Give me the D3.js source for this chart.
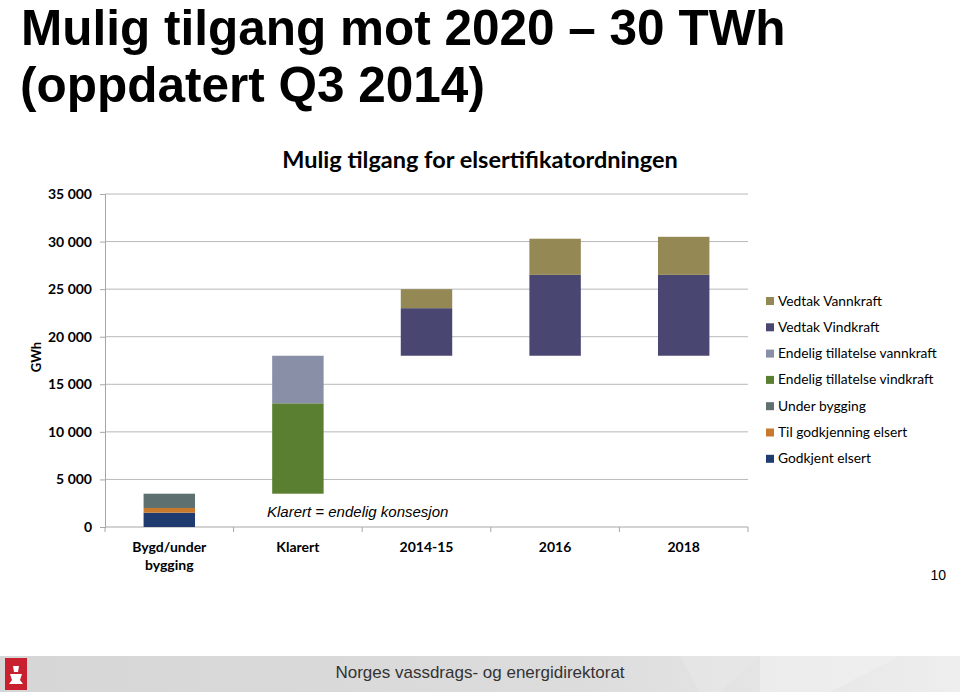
<!DOCTYPE html>
<html>
<head>
<meta charset="utf-8">
<script src="https://cdn.jsdelivr.net/npm/d3@7"></script>
<style>
  body { margin:0; background:#fff; }
  svg { display:block; }
</style>
</head>
<body>
<svg id="chart" width="960" height="698"></svg>
<script>
// Data
var categories = ["Bygd/under bygging", "Klarert", "2014-15", "2016", "2018"];
var base        = [0, 3500, 18000, 18000, 18000]; // invisible offset
var godkjent    = [1500, 0, 0, 0, 0];
var tilGodkj    = [500, 0, 0, 0, 0];
var underBygg   = [1500, 0, 0, 0, 0];
var endVind     = [0, 9500, 0, 0, 0];
var endVann     = [0, 5000, 0, 0, 0];
var vedtakVind  = [0, 0, 5000, 8500, 8500];
var vedtakVann  = [0, 0, 2000, 3800, 4000];
var yTicks = [0, 5000, 10000, 15000, 20000, 25000, 30000, 35000];

var seriesKeys = ["base", "Godkjent elsert", "Til godkjenning elsert", "Under bygging",
                  "Endelig tillatelse vindkraft", "Endelig tillatelse vannkraft",
                  "Vedtak Vindkraft", "Vedtak Vannkraft"];
var seriesVals = [base, godkjent, tilGodkj, underBygg, endVind, endVann, vedtakVind, vedtakVann];
var colors = {
  "Godkjent elsert": "#1f3b70",
  "Til godkjenning elsert": "#c8792c",
  "Under bygging": "#5f7070",
  "Endelig tillatelse vindkraft": "#5a7f31",
  "Endelig tillatelse vannkraft": "#8a8fa8",
  "Vedtak Vindkraft": "#4a4672",
  "Vedtak Vannkraft": "#948955"
};
var legendOrder = ["Vedtak Vannkraft", "Vedtak Vindkraft", "Endelig tillatelse vannkraft",
                   "Endelig tillatelse vindkraft", "Under bygging", "Til godkjenning elsert",
                   "Godkjent elsert"];

var svg = d3.select("#chart");
var dim = { left:105, right:748, top:194, bottom:527 };
var calibri = "Lato, 'Open Sans', sans-serif";
var arial = "'Liberation Sans', Arial, sans-serif";

// Table for d3.stack
var table = categories.map(function(c, i) {
  var row = { cat: c };
  seriesKeys.forEach(function(k, j) { row[k] = seriesVals[j][i]; });
  return row;
});
var stacked = d3.stack().keys(seriesKeys)(table);

var xScale = d3.scaleBand().domain(categories).range([dim.left, dim.right]);
var yScale = d3.scaleLinear().domain([0, 35000]).range([dim.bottom, dim.top]);
var barW = xScale.bandwidth() * 0.4;

// Big slide title
svg.append("text").attr("x", 21).attr("y", 45)
   .style("font-family", arial).style("font-weight", "bold")
   .style("font-size", "49.5px").text("Mulig tilgang mot 2020 \u2013 30 TWh");
svg.append("text").attr("x", 20).attr("y", 102)
   .style("font-family", arial).style("font-weight", "bold")
   .style("font-size", "49.5px").text("(oppdatert Q3 2014)");

// Chart title
svg.append("text").attr("x", 480).attr("y", 168).attr("text-anchor", "middle")
   .style("font-family", calibri).style("font-weight", "bold").style("font-size", "23.5px")
   .text("Mulig tilgang for elsertifikatordningen");

// Gridlines
svg.append("g").selectAll("line").data(yTicks.slice(1)).enter().append("line")
   .attr("x1", dim.left).attr("x2", dim.right)
   .attr("y1", function(d) { return yScale(d); }).attr("y2", function(d) { return yScale(d); })
   .attr("stroke", "#b8b8b8").attr("stroke-width", 1);

// Y axis
var yAxis = d3.axisLeft(yScale).tickValues(yTicks).tickSize(5).tickPadding(8);
var gy = svg.append("g").attr("transform", "translate(" + dim.left + ",0)").call(yAxis);
gy.select(".domain").attr("stroke", "#a6a6a6");
gy.selectAll(".tick line").attr("stroke", "#a6a6a6");
gy.selectAll(".tick text").style("font-family", calibri).style("font-weight", "bold")
   .style("font-size", "14px").attr("fill", "#000")
   .text(function(d) { return d3.format(",")(d).replace(/,/g, " "); });

svg.append("text").attr("transform", "translate(41,357) rotate(-90)").attr("text-anchor", "middle")
   .style("font-family", calibri).style("font-weight", "bold").style("font-size", "13px").text("GWh");

// X axis (ticks at category boundaries)
svg.append("line").attr("x1", dim.left).attr("x2", dim.right)
   .attr("y1", dim.bottom).attr("y2", dim.bottom).attr("stroke", "#a6a6a6");
var bounds = categories.map(function(c) { return xScale(c); }).concat([dim.right]);
svg.append("g").selectAll("line").data(bounds).enter().append("line")
   .attr("x1", function(d) { return d; }).attr("x2", function(d) { return d; })
   .attr("y1", dim.bottom).attr("y2", dim.bottom + 5).attr("stroke", "#a6a6a6");

var xl = svg.append("g").selectAll("text").data(categories).enter().append("text")
   .attr("x", function(d) { return xScale(d) + xScale.bandwidth() / 2; })
   .attr("y", 552).attr("text-anchor", "middle")
   .style("font-family", calibri).style("font-weight", "bold").style("font-size", "14px");
xl.each(function(d) {
  var parts = d === "Bygd/under bygging" ? ["Bygd/under", "bygging"] : [d];
  var t = d3.select(this);
  parts.forEach(function(p, i) {
    t.append("tspan").attr("x", t.attr("x")).attr("dy", i === 0 ? 0 : 18).text(p);
  });
});

// Bars
var layers = svg.append("g").selectAll("g").data(stacked.filter(function(s) { return s.key !== "base"; }))
   .enter().append("g").attr("fill", function(s) { return colors[s.key]; });
layers.selectAll("rect").data(function(s) { return s; }).enter().append("rect")
   .attr("x", function(d) { return xScale(d.data.cat) + (xScale.bandwidth() - barW) / 2; })
   .attr("width", barW)
   .attr("y", function(d) { return yScale(d[1]); })
   .attr("height", function(d) { return yScale(d[0]) - yScale(d[1]); });

// Annotation
svg.append("text").attr("x", 267).attr("y", 517)
   .style("font-family", arial).style("font-style", "italic")
   .style("font-size", "15px").text("Klarert = endelig konsesjon");

// Legend
var lg = svg.append("g").selectAll("g").data(legendOrder).enter().append("g")
   .attr("transform", function(d, i) { return "translate(766," + (301 + i * 26.3) + ")"; });
lg.append("rect").attr("x", 0).attr("y", -4).attr("width", 8).attr("height", 8)
   .attr("fill", function(d) { return colors[d]; });
lg.append("text").attr("x", 12).attr("y", 4.5)
   .style("font-family", calibri).style("font-size", "13.8px").text(function(d) { return d; });

// Page number
svg.append("text").attr("x", 946).attr("y", 580).attr("text-anchor", "end")
   .style("font-family", arial).style("font-size", "14px").text("10");

// Footer
var defs = svg.append("defs");
var grad = defs.append("linearGradient").attr("id", "fg").attr("x1", "0").attr("x2", "1");
grad.append("stop").attr("offset", "0").attr("stop-color", "#d6d6d6");
grad.append("stop").attr("offset", "0.6").attr("stop-color", "#dcdcdc");
grad.append("stop").attr("offset", "1").attr("stop-color", "#eeeeee");
svg.append("rect").attr("x", 0).attr("y", 656).attr("width", 960).attr("height", 36).attr("fill", "url(#fg)");
svg.append("path").attr("d", "M680,656 L760,656 L720,692 L700,692 Z").attr("fill", "#e6e6e6").attr("opacity", 0.8);
svg.append("path").attr("d", "M760,656 L900,656 L830,692 L760,692 Z").attr("fill", "#f0f0f0").attr("opacity", 0.7);
svg.append("rect").attr("x", 5).attr("y", 658).attr("width", 22).attr("height", 32).attr("fill", "#c9202f");
svg.append("path").attr("d", "M10,674 L22,674 L20,680 L23,684 L9,684 L12,680 Z M13,666 L19,666 L18,672 L14,672 Z")
   .attr("fill", "#fff");
svg.append("text").attr("x", 480).attr("y", 678).attr("text-anchor", "middle")
   .style("font-family", arial).style("font-size", "17px")
   .attr("fill", "#333").text("Norges vassdrags- og energidirektorat");
</script>
</body>
</html>
